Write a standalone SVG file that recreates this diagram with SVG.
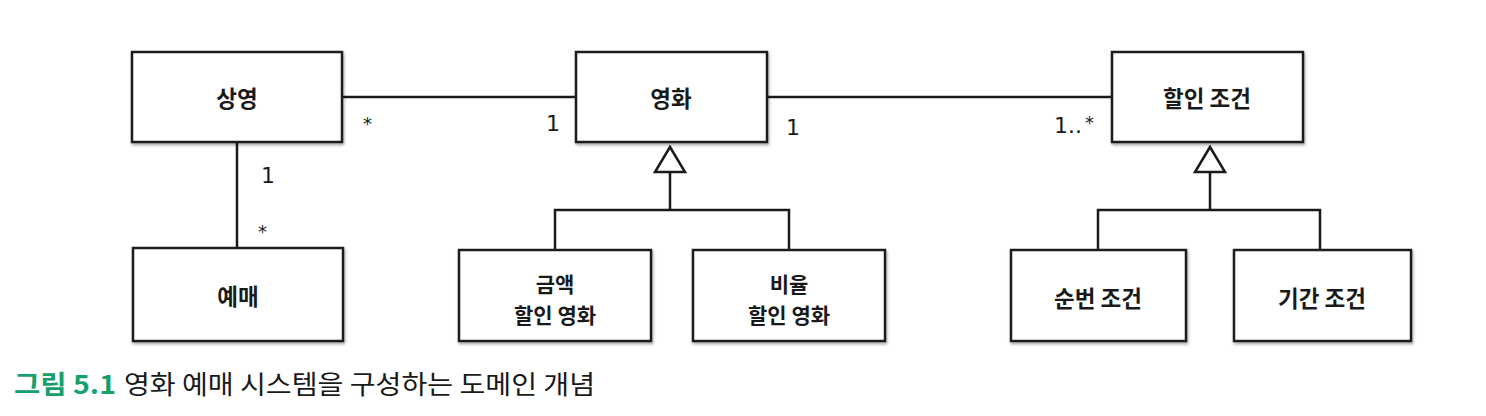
<svg xmlns="http://www.w3.org/2000/svg" width="1486" height="416" viewBox="0 0 1486 416">
<style>
.box{fill:#fff;stroke:#1a1a1a;stroke-width:2.5;filter:url(#sh)}
.lbl{font-family:"Noto Sans CJK KR","Noto Sans",sans-serif;font-weight:700;font-size:22.5px;fill:#1a1a1a;text-anchor:middle;dominant-baseline:central}
.lbl2{font-family:"Noto Sans CJK KR","Noto Sans",sans-serif;font-weight:700;font-size:21px;fill:#1a1a1a;text-anchor:middle}
.mult{font-family:"DejaVu Sans",sans-serif;font-size:22px;fill:#1a1a1a}
.star{font-family:"DejaVu Sans",sans-serif;font-size:18px;fill:#1a1a1a}
.ln{fill:none;stroke:#1a1a1a;stroke-width:2.5}
.tri{fill:#fff;stroke:#1a1a1a;stroke-width:2.5;stroke-linejoin:miter}
.cap{font-family:"Noto Sans CJK KR",sans-serif;font-size:26px}
</style>
<defs>
<filter id="sh" x="-10%" y="-10%" width="120%" height="125%">
<feDropShadow dx="1" dy="2" stdDeviation="1.5" flood-color="#000" flood-opacity="0.35"/>
</filter>
</defs>
<rect width="1486" height="416" fill="#fff"/>
<g id="connectors">
<line class="ln" x1="342" y1="97" x2="576" y2="97"/>
<line class="ln" x1="767" y1="97" x2="1112" y2="97"/>
<line class="ln" x1="237" y1="142" x2="237" y2="248"/>
<polyline class="ln" points="555,250 555,210 789,210 789,250"/>
<line class="ln" x1="670" y1="172" x2="670" y2="210"/>
<polygon class="tri" points="670,147 655,172 685,172"/>
<polyline class="ln" points="1098,250 1098,210 1320,210 1320,250"/>
<line class="ln" x1="1210" y1="172" x2="1210" y2="210"/>
<polygon class="tri" points="1210,147 1195,172 1225,172"/>
<text class="star" x="363" y="130">*</text>
<text class="mult" x="546" y="131">1</text>
<text class="mult" x="786" y="135">1</text>
<text class="mult" x="1054" y="133">1..</text>
<text class="star" x="1085" y="129">*</text>
<text class="mult" x="261" y="183">1</text>
<text class="star" x="258" y="238">*</text>
</g>
<g id="screening">
<rect class="box" x="132" y="52" width="210" height="90"/>
<text class="lbl" x="237" y="97">상영</text>
</g>
<g id="movie">
<rect class="box" x="576" y="52" width="191" height="90"/>
<text class="lbl" x="671" y="97">영화</text>
</g>
<g id="discount-condition">
<rect class="box" x="1112" y="52" width="191" height="90"/>
<text class="lbl" x="1207" y="97">할인 조건</text>
</g>
<g id="reservation">
<rect class="box" x="133" y="248" width="210" height="93"/>
<text class="lbl" x="238" y="295">예매</text>
</g>
<g id="amount-discount-movie">
<rect class="box" x="459" y="250" width="192" height="91"/>
<text class="lbl2" y="292"><tspan x="555">금액</tspan><tspan x="555" dy="31">할인 영화</tspan></text>
</g>
<g id="percent-discount-movie">
<rect class="box" x="693" y="250" width="192" height="91"/>
<text class="lbl2" y="292"><tspan x="789">비율</tspan><tspan x="789" dy="31">할인 영화</tspan></text>
</g>
<g id="sequence-condition">
<rect class="box" x="1011" y="250" width="175" height="91"/>
<text class="lbl" x="1098" y="297">순번 조건</text>
</g>
<g id="period-condition">
<rect class="box" x="1234" y="250" width="177" height="91"/>
<text class="lbl" x="1322" y="297">기간 조건</text>
</g>
<g id="caption">
<text class="cap" x="14" y="394" fill="#16a06c" font-weight="700" textLength="102" lengthAdjust="spacingAndGlyphs">그림 5.1</text>
<text class="cap" x="124" y="394" fill="#1a1a1a" textLength="471" lengthAdjust="spacingAndGlyphs">영화 예매 시스템을 구성하는 도메인 개념</text>
</g>
</svg>
